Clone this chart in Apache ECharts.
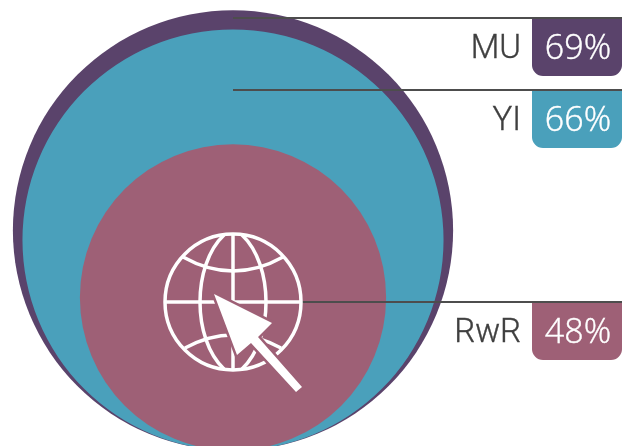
<!DOCTYPE html>
<html>
<head>
<meta charset="utf-8">
<style>
  html, body { margin: 0; padding: 0; background: #fff; }
  #chart { width: 626px; height: 446px; }
</style>
<script src="https://cdn.jsdelivr.net/npm/echarts@6/dist/echarts.min.js"></script>
</head>
<body>
<div id="chart"></div>
<script>
const categories = ['MU', 'YI', 'RwR'];
const values = [69, 66, 48];
const colors = ['#5a436b', '#4aa0bb', '#9e6076'];
// where each leader line sits, in px
const leaderY = [18, 90, 302];
const leaderX = [233, 233, 302];

const pxPerUnit = 3.19;
const centerX = 233 / pxPerUnit;
const white = '#fff';
const rose = colors[2];

const myChart = echarts.init(document.getElementById('chart'), null, { renderer: 'canvas' });

// circles sit on one baseline, radius follows the value
function renderCircle(params, api) {
    const v = api.value(1);
    const c = api.coord([centerX, v]);
    const r = api.size([v, v])[0];
    return {
        type: 'circle',
        shape: { cx: c[0], cy: c[1], r: r },
        style: { fill: colors[params.dataIndex] }
    };
}

function renderLabel(params, api) {
    const i = params.dataIndex;
    const y = leaderY[i];
    return {
        type: 'group',
        children: [
            {
                type: 'rect',
                shape: { x: 532, y: y, width: 90, height: 58, r: [0, 0, 11, 11] },
                style: { fill: colors[i] }
            },
            {
                type: 'line',
                shape: { x1: leaderX[i], y1: y, x2: 622, y2: y },
                style: { stroke: '#4d4d4d', lineWidth: 2 }
            },
            {
                type: 'text',
                style: {
                    x: 521, y: y + 32, text: categories[i], align: 'right', verticalAlign: 'middle',
                    font: '300 33px Roboto', fill: '#3f3f3f', stroke: '#4d4d4d', lineWidth: 0.4
                }
            },
            {
                type: 'text',
                style: {
                    x: 578, y: y + 31, text: api.value(1) + '%', align: 'center', verticalAlign: 'middle',
                    font: '300 34px "Open Sans"', fill: white, stroke: white, lineWidth: 0.4
                }
            }
        ]
    };
}

const stroke = { stroke: white, lineWidth: 3.5, fill: null };
const arrowPoints = [[214, 294], [272, 323], [258, 337], [302, 387], [296, 392], [251, 343], [237, 355]];

// globe + cursor icon
function renderIcon() {
    return {
        type: 'group',
        children: [
            { type: 'circle', shape: { cx: 233, cy: 302, r: 68 }, style: stroke },
            { type: 'line', shape: { x1: 165, y1: 302, x2: 301, y2: 302 }, style: stroke },
            { type: 'line', shape: { x1: 233, y1: 234, x2: 233, y2: 370 }, style: stroke },
            { type: 'bezierCurve', shape: { x1: 224, y1: 235, x2: 224, y2: 369, cpx1: 192, cpy1: 265, cpx2: 192, cpy2: 339 }, style: stroke },
            { type: 'bezierCurve', shape: { x1: 242, y1: 235, x2: 242, y2: 369, cpx1: 274, cpy1: 265, cpx2: 274, cpy2: 339 }, style: stroke },
            { type: 'bezierCurve', shape: { x1: 183, y1: 257, x2: 283, y2: 257, cpx1: 233, cpy1: 285 }, style: stroke },
            { type: 'bezierCurve', shape: { x1: 185, y1: 348, x2: 281, y2: 348, cpx1: 233, cpy1: 322 }, style: stroke },
            { type: 'polygon', shape: { points: arrowPoints }, style: { fill: white, stroke: rose, lineWidth: 5 } },
            { type: 'polygon', shape: { points: arrowPoints }, style: { fill: white } }
        ]
    };
}

const option = {
    animation: false,
    grid: { left: 0, right: 0, top: 0, bottom: 0 },
    xAxis: { type: 'value', min: 0, max: 626 / pxPerUnit, show: false },
    // baseline of the circles is just below the page
    yAxis: { type: 'value', min: 4.5 / pxPerUnit, max: 450.5 / pxPerUnit, show: false },
    series: [
        {
            type: 'custom',
            clip: false,
            renderItem: renderCircle,
            data: values.map((v, i) => [i, v]),
            encode: { x: 0, y: 1 },
            silent: true
        },
        {
            type: 'custom',
            clip: false,
            renderItem: renderLabel,
            data: values.map((v, i) => [i, v]),
            encode: { x: 0, y: 1 },
            silent: true,
            z: 3
        },
        {
            type: 'custom',
            clip: false,
            renderItem: renderIcon,
            data: [[0, 0]],
            silent: true,
            z: 5
        }
    ]
};

myChart.setOption(option);
</script>
</body>
</html>
